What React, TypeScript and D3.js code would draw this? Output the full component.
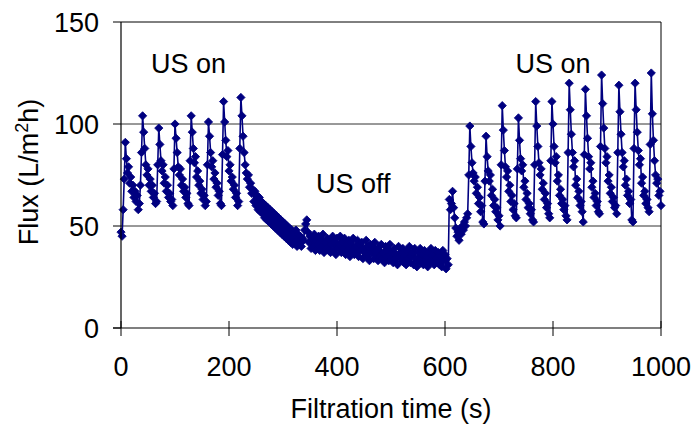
import React from "react";
import * as d3 from "d3";

// Sampling interval of the flux record (s)
const SAMPLE_INTERVAL = 2;

// Ultrasound on, first period (starts t = 0 s)
const usOn1Start = 0;
const usOn1Flux = [
  47, 45, 58, 73, 91, 83, 76, 79, 71, 74,
  67, 70, 64, 67, 62, 65, 58, 61, 70, 86,
  104, 96, 88, 80, 75, 78, 70, 73, 67, 70,
  64, 66, 61, 62, 80, 98, 90, 82, 77, 80,
  71, 74, 67, 70, 64, 66, 62, 63, 60, 78,
  100, 93, 86, 79, 75, 78, 70, 73, 67, 69,
  64, 66, 61, 60, 82, 104, 96, 88, 81, 84,
  74, 77, 70, 72, 66, 68, 63, 65, 60, 62,
  80, 101, 94, 86, 79, 82, 73, 76, 69, 71,
  65, 67, 61, 60, 85, 111, 101, 92, 84, 87,
  77, 80, 72, 74, 68, 70, 64, 66, 60, 62,
  88, 113, 104,
];

// Ultrasound off (starts t = 226 s)
const usOffStart = 226;
const usOffFlux = [
  94, 86, 80, 76, 73, 75, 69, 71, 66, 68,
  62, 67, 60, 65, 58, 64, 57, 62, 56, 61,
  54, 60, 53, 59, 52, 58, 51, 57, 50, 56,
  49, 55, 48, 54, 47, 53, 46, 52, 45, 51,
  44, 50, 43, 49, 42, 48, 41, 47, 42, 48,
  40, 46, 41, 45, 40, 44, 43, 48, 51, 53,
  47, 42, 45, 39, 44, 40, 46, 38, 43, 41,
  45, 38, 43, 40, 46, 37, 42, 39, 44, 38,
  43, 37, 41, 45, 38, 42, 36, 44, 39, 41,
  45, 37, 42, 39, 44, 36, 41, 38, 43, 35,
  42, 38, 44, 36, 40, 37, 43, 35, 41, 38,
  42, 34, 39, 37, 43, 35, 40, 33, 41, 37,
  39, 34, 42, 36, 38, 33, 40, 35, 41, 34,
  37, 32, 40, 35, 38, 33, 41, 34, 37, 32,
  39, 34, 36, 31, 40, 35, 37, 33, 39, 32,
  36, 31, 38, 34, 40, 32, 35, 37, 31, 39,
  34, 30, 37, 33, 39, 32, 36, 31, 38, 33,
  35, 30, 37, 32, 39, 33, 36, 31, 38, 34,
  32, 37, 31, 35, 30, 38, 33, 36, 29, 34,
  31,
];

// Ultrasound on, second period (starts t = 608 s)
const usOn2Start = 608;
const usOn2Flux = [
  63, 58, 61, 67, 59, 54, 49, 45, 47, 43,
  48, 46, 50, 48, 52, 50, 54, 56, 75, 99,
  89, 81, 76, 72, 74, 66, 69, 61, 64, 57,
  60, 52, 51, 72, 94, 84, 77, 72, 75, 65,
  68, 60, 63, 57, 59, 53, 55, 50, 80, 109,
  97, 87, 79, 74, 77, 67, 70, 62, 65, 58,
  61, 55, 54, 78, 103, 92, 83, 77, 80, 69,
  72, 63, 66, 59, 61, 56, 58, 53, 52, 80,
  111, 99, 89, 81, 75, 78, 68, 71, 63, 66,
  59, 61, 56, 54, 82, 111, 100, 89, 81, 84,
  72, 75, 65, 68, 61, 63, 58, 60, 55, 53,
  86, 120, 107, 95, 86, 79, 82, 70, 73, 64,
  67, 60, 62, 57, 52, 85, 117, 104, 93, 84,
  78, 81, 69, 72, 64, 66, 60, 62, 57, 56,
  89, 124, 110, 98, 88, 81, 84, 72, 75, 66,
  69, 62, 64, 59, 60, 56, 86, 119, 106, 95,
  86, 79, 82, 70, 73, 65, 67, 61, 63, 53,
  52, 88, 120, 107, 96, 87, 80, 83, 71, 74,
  65, 67, 61, 63, 59, 57, 90, 125, 105, 92,
  82, 75, 71, 73, 65, 67, 60,
];

const xTicks = [0, 200, 400, 600, 800, 1000];
const yTicks = [0, 50, 100, 150];
const annotations = [
  { label: "US on", t: 125, v: 125 },
  { label: "US off", t: 430, v: 66 },
  { label: "US on", t: 800, v: 125 },
];

type Pt = { t: number; v: number };
const toPoints = (start: number, arr: number[]): Pt[] =>
  arr.map((v, i) => ({ t: start + i * SAMPLE_INTERVAL, v }));

const data: Pt[] = [
  ...toPoints(usOn1Start, usOn1Flux),
  ...toPoints(usOffStart, usOffFlux),
  ...toPoints(usOn2Start, usOn2Flux),
];

const W = 696;
const H = 429;
const FONT = "'Liberation Sans', Arial, Helvetica, sans-serif";
const NAVY = "#000080";

export default function App() {
  const x = d3.scaleLinear().domain([0, 1000]).range([121, 661]);
  const y = d3.scaleLinear().domain([0, 150]).range([328, 22]);
  const line = d3
    .line<Pt>()
    .x((d) => x(d.t))
    .y((d) => y(d.v));
  const marker = d3.symbol().type(d3.symbolSquare).size(34)() as string;

  const [x0, x1] = x.range();
  const [yb, yt] = y.range();

  return (
    <svg
      width={W}
      height={H}
      style={{ position: "absolute", left: 0, top: 0, background: "#fff" }}
      fontFamily={FONT}
    >
      <rect x={0} y={0} width={W} height={H} fill="#fff" />
      {/* gridlines */}
      {yTicks
        .filter((v) => v > 0)
        .map((v) => (
          <line
            key={"g" + v}
            x1={x0}
            x2={x1}
            y1={y(v)}
            y2={y(v)}
            stroke={v === 150 ? "#000" : "#333"}
            strokeWidth={1}
          />
        ))}
      {/* right border */}
      <line x1={x1} x2={x1} y1={yt} y2={yb} stroke="#000" strokeWidth={1} />

      {/* series */}
      <path d={line(data) || ""} fill="none" stroke={NAVY} strokeWidth={1.6} />
      {data.map((d, i) => (
        <path
          key={i}
          d={marker}
          transform={`translate(${x(d.t)},${y(d.v)}) rotate(45)`}
          fill={NAVY}
          stroke={NAVY}
          strokeWidth={0.8}
        />
      ))}

      {/* axes */}
      <line x1={x0} x2={x0} y1={yt} y2={yb} stroke="#000" strokeWidth={1.2} />
      <line x1={x0 - 8} x2={x1} y1={yb} y2={yb} stroke="#000" strokeWidth={1.2} />
      {yTicks.map((v) => (
        <g key={"yt" + v}>
          <line x1={x0 - 8} x2={x0} y1={y(v)} y2={y(v)} stroke="#000" strokeWidth={1} />
          <text
            x={99}
            y={y(v) + 9.7}
            textAnchor="end"
            fontSize={27}
            fill="#000"
          >
            {v}
          </text>
        </g>
      ))}
      {xTicks.map((t) => (
        <g key={"xt" + t}>
          <line x1={x(t)} x2={x(t)} y1={yb - 7} y2={yb + 8} stroke="#000" strokeWidth={1} />
          <text x={x(t)} y={376} textAnchor="middle" fontSize={27} fill="#000">
            {t}
          </text>
        </g>
      ))}

      {/* axis titles */}
      <text x={391} y={418} textAnchor="middle" fontSize={27} fill="#000">
        Filtration time (s)
      </text>
      <text
        transform={`translate(38,172) rotate(-90)`}
        textAnchor="middle"
        fontSize={27}
        fill="#000"
      >
        Flux (L/m<tspan dy={-10} fontSize={18}>2</tspan>
        <tspan dy={10}>h)</tspan>
      </text>

      {/* annotations */}
      {annotations.map((a, i) => (
        <text
          key={"a" + i}
          x={x(a.t)}
          y={y(a.v)}
          textAnchor="middle"
          fontSize={27}
          fill="#000"
        >
          {a.label}
        </text>
      ))}
    </svg>
  );
}
